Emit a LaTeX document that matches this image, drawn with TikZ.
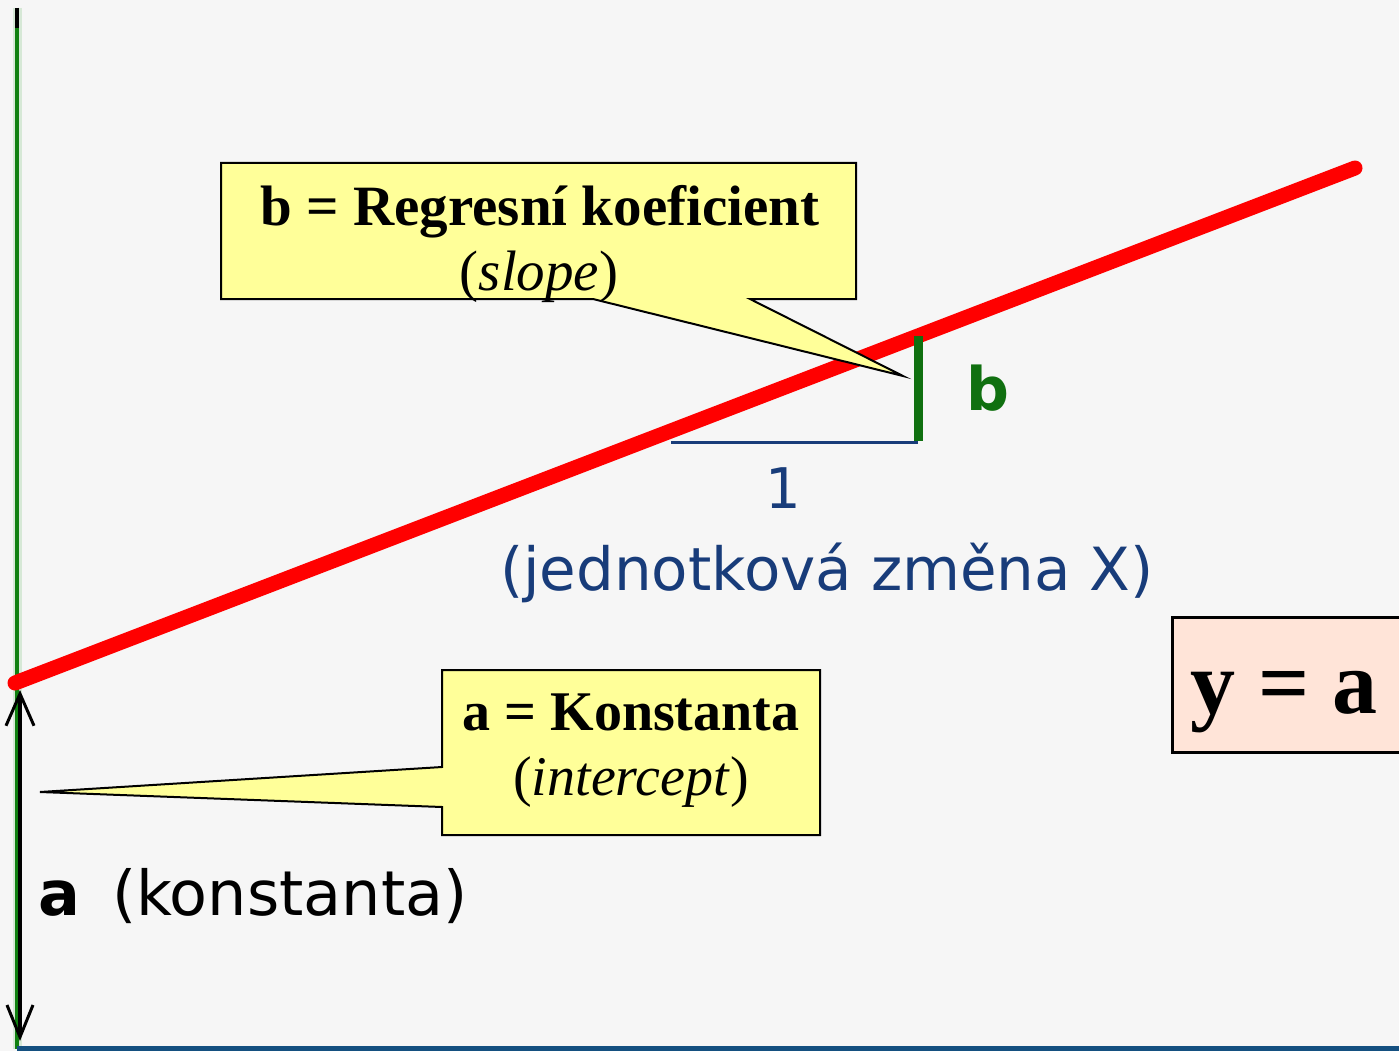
\documentclass[tikz,border=0pt]{standalone}
\usepackage{fontspec}
\setmainfont{Liberation Serif}
\newfontfamily\dvs{DejaVu Sans}
\usetikzlibrary{arrows.meta}
\definecolor{bg}{RGB}{246,246,246}
\definecolor{callyellow}{RGB}{255,255,153}
\definecolor{peach}{RGB}{255,228,216}
\definecolor{axgreen}{RGB}{16,128,16}
\definecolor{axhalo}{RGB}{214,232,214}
\definecolor{navytext}{RGB}{24,60,122}
\definecolor{axblue}{RGB}{20,80,128}
\definecolor{barg}{RGB}{16,112,16}
\begin{document}
\begin{tikzpicture}[x=1pt,y=-1pt,
  callout/.style={fill=callyellow,draw=black,line width=2pt,line join=miter},
  ctext/.style={anchor=base,inner sep=0pt,font=\fontsize{57}{65}\selectfont},
  sanslabel/.style={anchor=base,inner sep=0pt}]
\useasboundingbox (0,0) rectangle (1399,1051);
\fill[bg] (0,0) rectangle (1399,1051);

% coordinates
\coordinate (axTop) at (17,8);
\coordinate (axBlk) at (17,28);
\coordinate (axBot) at (17,1049);
\coordinate (xEnd) at (1405,1049);
\coordinate (aTop) at (20,690);
\coordinate (aBot) at (20,1041);
\coordinate (lineL) at (15,683);
\coordinate (lineR) at (1355,168);
\coordinate (runL) at (671,442);
\coordinate (runR) at (918,442);
\coordinate (riseT) at (918,336);
\coordinate (riseB) at (918,441);

% axes
\draw[axhalo, line width=9pt] (axTop) -- (axBot);
\draw[axgreen, line width=4pt] (axTop) -- (axBot);
\draw[black, line width=4pt] (axTop) -- (axBlk);
\draw[axblue, line width=7pt] (axBot) -- (xEnd);

% double arrow for a
\draw[black, line width=4pt, {Straight Barb[length=32pt,width=28pt,line width=3pt]}-{Straight Barb[length=32pt,width=26pt,line width=3pt]}] (aTop) -- (aBot);

% regression line
\draw[red, line width=15pt, line cap=round] (lineL) -- (lineR);

% slope triangle
\draw[navytext, line width=3pt] (runL) -- (runR);
\draw[barg, line width=9pt] (riseT) -- (riseB);

% labels
\node[sanslabel, text=barg, font=\dvs\bfseries\fontsize{60}{60}\selectfont] (bLab) at (988,410) {b};
\node[sanslabel, text=navytext, font=\dvs\fontsize{56}{56}\selectfont] (oneLab) at (783,508) {1};
\node[sanslabel, text=navytext, font=\dvs\fontsize{59.5}{60}\selectfont] (unitLab) at (827,590) {(jednotková změna X)};
\node[anchor=base west, inner sep=0pt, font=\dvs\fontsize{62}{62}\selectfont] (konLab) at (38,915) {\textbf{a}\hspace{32pt}(konstanta)};

% callout b
\draw[callout] (221,163) -- (856,163) -- (856,299) -- (750,299) -- (903,376) -- (593,299) -- (221,299) -- cycle;
\node[ctext] (bTitle) at (540,225) {\textbf{b = Regresní koeficient}};
\node[ctext] (bSub) at (539,290) {(\textit{slope})};

% callout a
\draw[callout] (442,670) -- (820,670) -- (820,835) -- (442,835) -- (442,807) -- (40,792) -- (442,767) -- cycle;
\node[ctext, font=\fontsize{56}{65}\selectfont] (aTitle) at (631,730) {\textbf{a = Konstanta}};
\node[ctext, font=\fontsize{56}{65}\selectfont] (aSub) at (631,795) {(\textit{intercept})};

% equation box
\draw[fill=peach, draw=black, line width=3pt] (1172,617) rectangle (1420,752);
\node[anchor=base, inner sep=0pt, font=\bfseries\fontsize{90}{90}\selectfont] (eq) at (1284,713) {y = a};
\end{tikzpicture}
\end{document}
